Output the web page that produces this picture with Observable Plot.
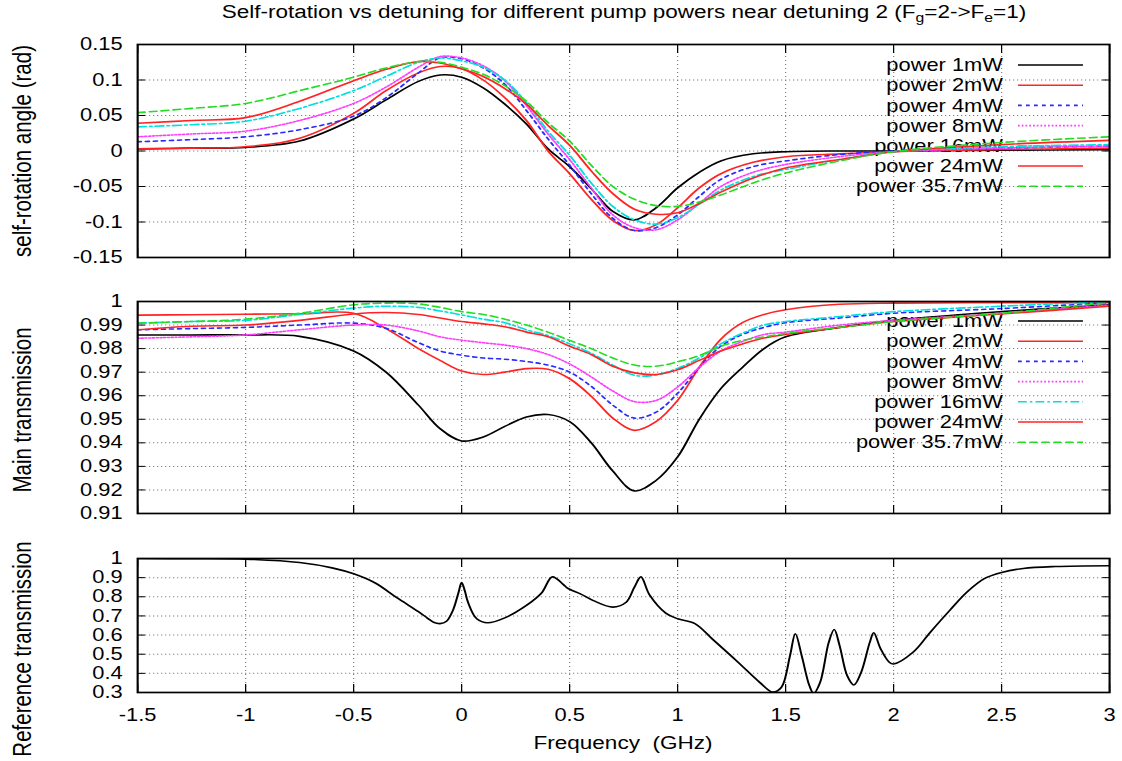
<!DOCTYPE html>
<html>
<head>
<meta charset="utf-8">
<script src="https://cdn.jsdelivr.net/npm/d3@7"></script>
<script src="https://cdn.jsdelivr.net/npm/@observablehq/plot@0.6"></script>
<style>
html,body{margin:0;padding:0;background:#fff;}
#wrap{position:relative;width:1122px;height:761px;overflow:hidden;background:#fff;}
#stage{position:absolute;left:0;top:0;height:761px;transform-origin:0 0;font-family:"Liberation Sans",Arial,Helvetica,sans-serif;color:#000;}
.ylab{position:absolute;white-space:nowrap;font-size:20.5px;line-height:22px;transform:translate(-50%,-50%) rotate(-90deg);}
</style>
</head>
<body>
<div id="wrap"><div id="stage"></div></div>
<script>
// ---------------- data ----------------
const powers = ["power 1mW", "power 2mW", "power 4mW", "power 8mW", "power 16mW", "power 24mW", "power 35.7mW"];

// panel 1: self-rotation angle (rad)
const freqRot = [-1.5,-1.25,-1,-0.75,-0.5,-0.35,-0.2,-0.1,0,0.1,0.2,0.3,0.4,0.5,0.6,0.7,0.8,0.9,1.0,1.1,1.2,1.35,1.5,1.75,2.0,2.5,3.0];
const rot1mW  = [0.003,0.004,0.005,0.014,0.045,0.072,0.098,0.107,0.104,0.089,0.066,0.038,0.003,-0.022,-0.053,-0.085,-0.097,-0.080,-0.052,-0.030,-0.014,-0.004,-0.001,0,0,0.001,0.002];
const rot2mW  = [0.003,0.004,0.006,0.018,0.053,0.085,0.110,0.119,0.116,0.100,0.075,0.043,0.000,-0.032,-0.068,-0.098,-0.112,-0.104,-0.080,-0.052,-0.032,-0.016,-0.008,-0.004,-0.001,0.002,0.004];
const rot4mW  = [0.013,0.016,0.020,0.030,0.049,0.075,0.110,0.131,0.130,0.117,0.094,0.057,0.017,-0.020,-0.060,-0.095,-0.112,-0.108,-0.090,-0.064,-0.040,-0.022,-0.014,-0.005,0,0.004,0.007];
const rot8mW  = [0.020,0.024,0.028,0.043,0.067,0.090,0.118,0.133,0.131,0.120,0.099,0.064,0.024,-0.012,-0.052,-0.090,-0.108,-0.111,-0.097,-0.074,-0.050,-0.030,-0.019,-0.008,-0.001,0.004,0.007];
const rot16mW = [0.034,0.037,0.042,0.060,0.085,0.105,0.125,0.131,0.127,0.118,0.100,0.068,0.028,-0.006,-0.045,-0.078,-0.097,-0.103,-0.094,-0.075,-0.055,-0.036,-0.026,-0.012,-0.001,0.006,0.009];
const rot24mW = [0.039,0.043,0.047,0.070,0.099,0.115,0.126,0.124,0.116,0.105,0.088,0.066,0.036,0.008,-0.028,-0.060,-0.082,-0.089,-0.087,-0.074,-0.058,-0.038,-0.024,-0.012,-0.001,0.009,0.015];
const rot36mW = [0.054,0.060,0.067,0.085,0.104,0.117,0.126,0.125,0.118,0.108,0.092,0.070,0.040,0.014,-0.020,-0.050,-0.068,-0.077,-0.078,-0.072,-0.062,-0.045,-0.031,-0.014,-0.001,0.012,0.020];

// panel 2: main transmission
const freqMain = [-1.5,-1.25,-1,-0.75,-0.5,-0.35,-0.2,-0.1,0,0.1,0.2,0.3,0.4,0.5,0.6,0.7,0.8,0.9,1.0,1.1,1.2,1.3,1.4,1.5,1.75,2.0,2.5,3.0];
const main1mW  = [0.9858,0.9858,0.9858,0.9852,0.979,0.970,0.956,0.946,0.9408,0.9425,0.947,0.951,0.952,0.949,0.940,0.928,0.9196,0.924,0.934,0.950,0.963,0.972,0.980,0.985,0.989,0.992,0.9957,0.9986];
const main2mW  = [0.9942,0.9944,0.9946,0.9948,0.9950,0.9885,0.980,0.975,0.9705,0.9690,0.9700,0.9715,0.9712,0.9672,0.9598,0.9505,0.9453,0.9490,0.958,0.972,0.984,0.991,0.9945,0.9965,0.9988,0.9993,0.9995,0.9995];
const main4mW  = [0.988,0.9885,0.989,0.990,0.9908,0.9886,0.9825,0.979,0.9772,0.976,0.9755,0.9745,0.973,0.970,0.964,0.956,0.9505,0.953,0.961,0.972,0.981,0.986,0.989,0.991,0.993,0.995,0.997,0.9995];
const main8mW  = [0.9844,0.985,0.9858,0.988,0.990,0.990,0.9875,0.985,0.9836,0.9825,0.9815,0.980,0.9775,0.9735,0.968,0.962,0.9575,0.958,0.9637,0.972,0.979,0.983,0.986,0.987,0.990,0.992,0.995,0.9985];
const main16mW = [0.9908,0.9915,0.992,0.9945,0.9972,0.998,0.9975,0.996,0.9943,0.9925,0.991,0.988,0.9855,0.982,0.978,0.973,0.9687,0.9688,0.9716,0.976,0.982,0.9865,0.990,0.9915,0.9936,0.9957,0.998,1.0];
const main24mW = [0.988,0.9895,0.990,0.992,0.9947,0.9953,0.9945,0.993,0.9915,0.9905,0.9893,0.987,0.985,0.981,0.9775,0.9725,0.9697,0.969,0.971,0.975,0.979,0.982,0.9845,0.986,0.989,0.9915,0.9947,0.998];
const main36mW = [0.9908,0.9915,0.9925,0.995,0.9986,0.9993,0.999,0.9975,0.9957,0.9945,0.9925,0.990,0.987,0.9835,0.980,0.976,0.973,0.9725,0.9744,0.977,0.981,0.9835,0.985,0.9865,0.989,0.9915,0.995,0.9996];

// panel 3: reference transmission
const freqRef = [-1.5,-1.25,-1.0,-0.75,-0.6,-0.5,-0.4,-0.3,-0.2,-0.16,-0.13,-0.1,-0.07,-0.04,-0.015,0.0,0.015,0.03,0.07,0.12,0.2,0.3,0.37,0.42,0.47,0.49,0.55,0.61,0.70,0.76,0.80,0.83,0.87,0.945,1.0,1.08,1.16,1.28,1.38,1.44,1.48,1.52,1.545,1.575,1.61,1.63,1.66,1.70,1.725,1.75,1.785,1.816,1.85,1.89,1.908,1.94,1.98,2.0,2.09,2.17,2.26,2.34,2.42,2.5,2.6,2.75,3.0];
const refTrans = [1.0,0.999,0.9965,0.979,0.951,0.92,0.872,0.795,0.722,0.69,0.667,0.66,0.672,0.73,0.82,0.874,0.83,0.77,0.685,0.664,0.69,0.755,0.82,0.904,0.865,0.845,0.815,0.78,0.746,0.77,0.85,0.904,0.81,0.715,0.685,0.66,0.58,0.458,0.353,0.302,0.326,0.49,0.607,0.49,0.336,0.295,0.353,0.563,0.629,0.545,0.388,0.339,0.406,0.563,0.612,0.528,0.458,0.449,0.51,0.615,0.729,0.825,0.895,0.927,0.948,0.958,0.962];

// ticks
const xTicks = [-1.5,-1,-0.5,0,0.5,1,1.5,2,2.5,3];
const rotTicks = [-0.15,-0.1,-0.05,0,0.05,0.1,0.15];
const mainTicks = [0.91,0.92,0.93,0.94,0.95,0.96,0.97,0.98,0.99,1];
const refTicks = [0.3,0.4,0.5,0.6,0.7,0.8,0.9,1];

// ---------------- styles / layout ----------------
const seriesStyle = [
  {stroke: "#000000", dash: undefined},
  {stroke: "#ff2424", dash: undefined},
  {stroke: "#2a2aff", dash: "3,3.4"},
  {stroke: "#ff3cff", dash: "1.4,1.6"},
  {stroke: "#00dede", dash: "7,2.5,2,2.5"},
  {stroke: "#ff2424", dash: undefined},
  {stroke: "#22dd22", dash: "6,3.5"}
];
const SX = 1.25;             // horizontal stretch of the reference picture
const W = 1122 / SX;
const ML = 137 / SX, MR = (1122 - 1109) / SX;
const FONT = '"Liberation Sans", Arial, Helvetica, sans-serif';
const stage = document.getElementById("stage");
stage.style.width = W + "px";
stage.style.transform = `scaleX(${SX})`;

const fmt2 = d => String(Math.round(d * 100) / 100);
const fmt1 = d => String(Math.round(d * 10) / 10);

function rows(xs, ys) { return xs.map((x, i) => ({x, y: ys[i]})); }
function el(tag, css, html) {
  const e = document.createElement(tag);
  Object.assign(e.style, css);
  if (html != null) e.innerHTML = html;
  stage.appendChild(e);
  return e;
}
function place(svg, top) {
  const d = el("div", {position: "absolute", left: "0px", top: top + "px"});
  d.appendChild(svg);
}

// legend (key): labels and line samples, drawn under the curves
function keyMark(key, top) {
  return () => {
    const g = d3.create("svg:g").attr("aria-label", "key");
    powers.forEach((name, i) => {
      const yc = key.first + key.step * i - top;
      const st = seriesStyle[i];
      g.append("text")
        .attr("x", 1003 / SX).attr("y", yc).attr("dy", "0.35em")
        .attr("text-anchor", "end").attr("font-size", 17.5).attr("fill", "#000")
        .text(name);
      const ln = g.append("line")
        .attr("x1", 1018 / SX).attr("x2", 1083 / SX).attr("y1", yc).attr("y2", yc)
        .attr("stroke", st.stroke).attr("stroke-width", 1.6);
      if (st.dash) ln.attr("stroke-dasharray", st.dash);
    });
    return g.node();
  };
}

const gridStyle = {stroke: "#808080", strokeOpacity: 1, strokeWidth: 1};

function panel({top, height, mt, mb, yDomain, yTicks, yFmt, series, xLabels, key}) {
  const marks = [
    Plot.gridX(xTicks, {...gridStyle, strokeDasharray: "1,3"}),
    Plot.gridY(yTicks, {...gridStyle, strokeDasharray: "1,2.2"})
  ];
  if (key) marks.push(keyMark(key, top));
  for (const s of series) {
    const opts = {x: "x", y: "y", stroke: s.stroke, strokeWidth: 1.6, curve: "catmull-rom", clip: true};
    if (s.dash) opts.strokeDasharray = s.dash;
    marks.push(Plot.line(rows(s.x, s.y), opts));
  }
  marks.push(
    Plot.frame({stroke: "#000", strokeWidth: 1.7}),
    Plot.axisY(yTicks, {anchor: "left", tickSize: -8 / SX, fill: "none", label: null}),
    Plot.axisY(yTicks, {anchor: "right", tickSize: -8 / SX, fill: "none", label: null}),
    Plot.axisX(xTicks, {anchor: "bottom", tickSize: -8, fill: "none", label: null}),
    Plot.axisX(xTicks, {anchor: "top", tickSize: -8, fill: "none", label: null}),
    Plot.axisY(yTicks, {anchor: "left", tickSize: 0, tickPadding: 12, tickFormat: yFmt, label: null, fontSize: 17.5})
  );
  if (xLabels) {
    marks.push(Plot.axisX(xTicks, {anchor: "bottom", tickSize: 0, tickPadding: 16, tickFormat: d => String(d), label: null, fontSize: 17.5}));
  }
  const svg = Plot.plot({
    width: W, height, marginTop: mt, marginBottom: mb, marginLeft: ML, marginRight: MR,
    x: {domain: [-1.5, 3], axis: null, label: null},
    y: {domain: yDomain, axis: null, label: null},
    style: {background: "transparent", overflow: "visible", fontFamily: FONT, fontSize: "17.5px", color: "#000"},
    marks
  });
  place(svg, top);
  return svg;
}

const rotVals = [rot1mW, rot2mW, rot4mW, rot8mW, rot16mW, rot24mW, rot36mW];
const mainVals = [main1mW, main2mW, main4mW, main8mW, main16mW, main24mW, main36mW];

panel({
  top: 0, height: 270, mt: 44, mb: 13, yDomain: [-0.15, 0.15], yTicks: rotTicks, yFmt: fmt2,
  series: rotVals.map((v, i) => ({x: freqRot, y: v, ...seriesStyle[i]})),
  key: {first: 65, step: 20.2}
});
panel({
  top: 280, height: 250, mt: 21, mb: 17, yDomain: [0.91, 1], yTicks: mainTicks, yFmt: fmt2,
  series: mainVals.map((v, i) => ({x: freqMain, y: v, ...seriesStyle[i]})),
  key: {first: 321, step: 20.2}
});
panel({
  top: 535, height: 226, mt: 23, mb: 69, yDomain: [0.3, 1], yTicks: refTicks, yFmt: fmt1,
  series: [{x: freqRef, y: refTrans, stroke: "#000", dash: undefined}],
  xLabels: true
});

// titles and axis labels
el("div", {position: "absolute", left: (624 / SX) + "px", top: "1px", transform: "translateX(-50%)",
  whiteSpace: "nowrap", fontSize: "18px", lineHeight: "22px"},
  'Self-rotation vs detuning for different pump powers near detuning 2 (F<sub style="font-size:70%;vertical-align:-0.3em">g</sub>=2-&gt;F<sub style="font-size:70%;vertical-align:-0.3em">e</sub>=1)');
el("div", {position: "absolute", left: (623 / SX) + "px", top: "734px", transform: "translateX(-50%)",
  whiteSpace: "pre", fontSize: "18px", lineHeight: "18px"}, "Frequency  (GHz)");
el("div", {left: (23 / SX) + "px", top: "151px"}, "self-rotation angle (rad)").className = "ylab";
el("div", {left: (23 / SX) + "px", top: "410px"}, "Main transmission").className = "ylab";
el("div", {left: (23 / SX) + "px", top: "649px"}, "Reference transmission").className = "ylab";
</script>
</body>
</html>
